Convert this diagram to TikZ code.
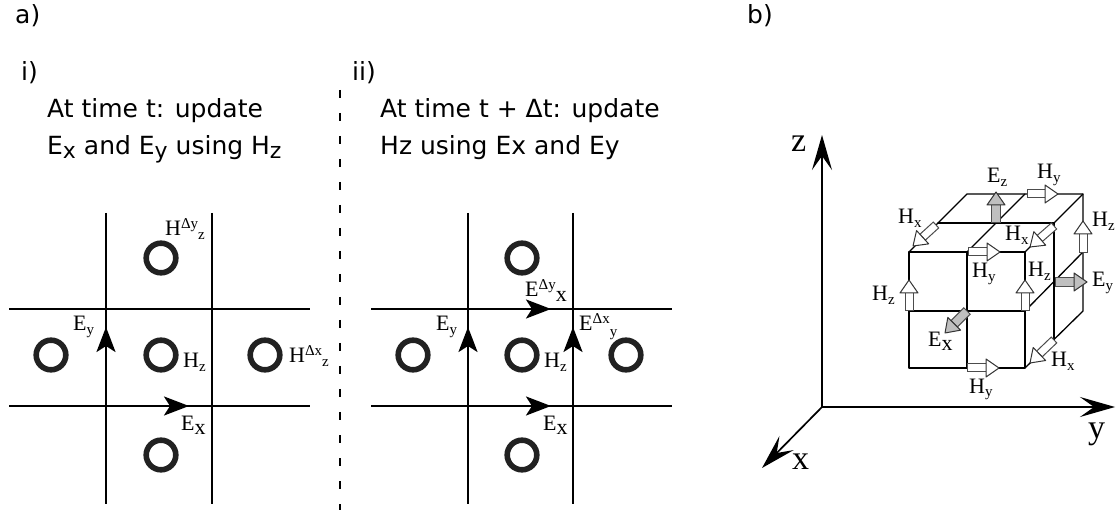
\documentclass[tikz,border=0pt]{standalone}
\usepackage{fontspec}
\setmainfont{DejaVu Sans}
\newfontfamily\tms{Liberation Serif}
\usetikzlibrary{arrows.meta}
\newcommand{\lowt}[2][-4pt]{\raisebox{#1}{\fontsize{15}{15}\selectfont #2}}
\newcommand{\hight}[2][7pt]{\raisebox{#1}{\fontsize{15}{15}\selectfont #2}}
\newcommand{\bigx}{\raisebox{-4pt}{\fontsize{22}{22}\selectfont x}}
\newcommand{\opensub}[1]{\raisebox{-5pt}{\fontsize{19}{19}\selectfont #1}}
\tikzset{
  x=1pt,y=-1pt,
  gridline/.style={line width=1.5pt,black},
  cubeline/.style={line width=1.3pt,black,line cap=round,line join=round},
  ring/.style={line width=5.6pt,draw=black!87,fill=none},
  field/.style={line width=2.6pt,black,-{Stealth[length=25pt,width=19pt,inset=6pt]}},
  axis/.style={line width=1.7pt,black,-{Stealth[length=35pt,width=20pt,inset=14pt]}},
  fld/.style={anchor=base west,inner sep=0pt,font=\tms\fontsize{22}{24}\selectfont},
  axl/.style={anchor=base west,inner sep=0pt,font=\tms\fontsize{34}{36}\selectfont},
  title/.style={anchor=base west,inner sep=0pt,font=\fontsize{25}{30}\selectfont},
}
\newcommand{\farrow}[6]{% x1 y1 x2 y2 fill halfbody
  \pgfmathsetmacro{\farang}{atan2(-(#4-#2),#3-#1)}
  \pgfmathsetmacro{\farlen}{veclen(#3-#1,#4-#2)}
  \pgfmathsetmacro{\farneck}{\farlen-13}
  \begin{scope}[shift={(#1,#2)},rotate=\farang]
    \draw[line width=1pt,black!70,fill=#5] (0,-#6) -- (\farneck,-#6) -- (\farneck,#6) -- (0,#6) -- cycle;
    \draw[line width=1pt,black!80,fill=#5,line join=round] (\farneck,-9) -- (\farlen,0) -- (\farneck,9) -- cycle;
  \end{scope}}
\begin{document}
\begin{tikzpicture}
\useasboundingbox[fill=white] (0,0) rectangle (1119,510);
% titles
\node[title] (ta) at (15,24) {a)};
\node[title] (tb) at (747,24) {b)};
\node[title] (ti) at (21,81) {i)};
\node[title] (tii) at (352,81) {ii)};
\node[title] (t1) at (47,118) {At time t: update};
\node[title] (t2) at (47,155) {E\raisebox{-4pt}{\fontsize{22}{22}\selectfont x} and E\raisebox{-4pt}{\fontsize{22}{22}\selectfont y} using H\raisebox{-4pt}{\fontsize{22}{22}\selectfont z}};
\node[title] (t3) at (380,118) {At time t + Δt: update};
\node[title] (t4) at (380,155) {Hz using Ex and Ey};
\draw[line width=1.5pt,dash pattern=on 8pt off 15pt] (340,90) -- (340,510);
% left grid
\draw[gridline] (106,213) -- (106,504);
\draw[gridline] (212,213) -- (212,504);
\draw[gridline] (9,309) -- (310,309);
\draw[gridline] (9,406) -- (310,406);
\foreach \cx/\cy in {161/258,51/355,161/355,265/355,161/455}
  \draw[ring] (\cx,\cy) circle (14.8);
\draw[field] (106,400) -- (106,327);
\draw[field] (116,406) -- (189,406);
\node[fld] (l1) at (165,236) {H\hight{Δy}\lowt{z}};
\node[fld] (l2) at (183,368) {H\lowt{z}};
\node[fld] (l3) at (289,363) {H\hight{Δx}\lowt{z}};
\node[fld] (l4) at (73,331) {E\lowt{y}};
\node[fld] (l5) at (181,431) {E\bigx};
% middle grid
\draw[gridline] (468,213) -- (468,504);
\draw[gridline] (573,213) -- (573,504);
\draw[gridline] (371,309) -- (672,309);
\draw[gridline] (371,406) -- (672,406);
\foreach \cx/\cy in {522/258,413/355,522/355,626/355,522/455}
  \draw[ring] (\cx,\cy) circle (14.8);
\draw[field] (468,400) -- (468,327);
\draw[field] (573,400) -- (573,327);
\draw[field] (478,406) -- (551,406);
\draw[field] (478,309) -- (551,309);
\node[fld] (m1) at (525,297) {E\hight{Δy}\raisebox{-5pt}{\fontsize{22}{22}\selectfont x}};
\node[fld] (m2) at (436,331) {E\lowt{y}};
\node[fld] (m3) at (579,331) {E\hight{Δx}\lowt[-6pt]{y}};
\node[fld] (m4) at (544,368) {H\lowt{z}};
\node[fld] (m5) at (543,431) {E\bigx};
% axes
\coordinate (o) at (822,407);
\coordinate (zt) at (822,135);
\coordinate (yt) at (1115,407);
\coordinate (xt) at (762,468);
\draw[axis] (o) -- (zt);
\draw[axis] (o) -- (yt);
\draw[axis] (o) -- (xt);
\node[axl] (az) at (791,152) {z};
\node[axl] (ay) at (1088,438) {y};
\node[axl] (ax) at (792,469) {x};
% cube
\draw[cubeline] (909,252) -- (1025,252) -- (1025,368) -- (909,368) -- cycle;
\draw[cubeline] (967,252) -- (967,368);
\draw[cubeline] (909,311) -- (1025,311);
\draw[cubeline] (909,252) -- (967,194) -- (1083,194) -- (1083,311) -- (1025,368);
\draw[cubeline] (1025,252) -- (1083,194);
\draw[cubeline] (938,223) -- (1054,223) -- (1054,340);
\draw[cubeline] (967,252) -- (1025,194);
\draw[cubeline] (1025,311) -- (1083,252);
% open arrows
\farrow{1027}{194}{1058}{194}{white}{4}
\farrow{936}{225}{913}{246}{white}{4}
\farrow{968}{252}{1000}{252}{white}{4}
\farrow{1054}{226}{1030}{247}{white}{4}
\farrow{1083}{253}{1083}{221}{white}{4}
\farrow{909}{311}{909}{280}{white}{4}
\farrow{1025}{311}{1025}{280}{white}{4}
\farrow{1054}{340}{1030}{363}{white}{4}
\farrow{967}{368}{999}{368}{white}{4}
% grey arrows
\farrow{996}{223}{996}{192}{black!25}{4.5}
\farrow{1055}{282}{1087}{282}{black!25}{4.5}
\farrow{967}{311}{945}{333}{black!25}{4.5}
% cube labels
\node[fld] (c1) at (987,183) {E\lowt{z}};
\node[fld] (c2) at (1037,179) {H\lowt{y}};
\node[fld] (c3) at (898,224) {H\lowt{x}};
\node[fld] (c4) at (1005,241) {H\lowt{x}};
\node[fld] (c5) at (1092,227) {H\lowt{z}};
\node[fld] (c6) at (972,278) {H\lowt{y}};
\node[fld] (c7) at (1028,277) {H\lowt{z}};
\node[fld] (c8) at (1092,287) {E\lowt{y}};
\node[fld] (c9) at (872,301) {H\lowt{z}};
\node[fld] (c10) at (928,347) {E\bigx};
\node[fld] (c11) at (1051,367) {H\lowt{x}};
\node[fld] (c12) at (969,393) {H\lowt{y}};
\end{tikzpicture}
\end{document}
